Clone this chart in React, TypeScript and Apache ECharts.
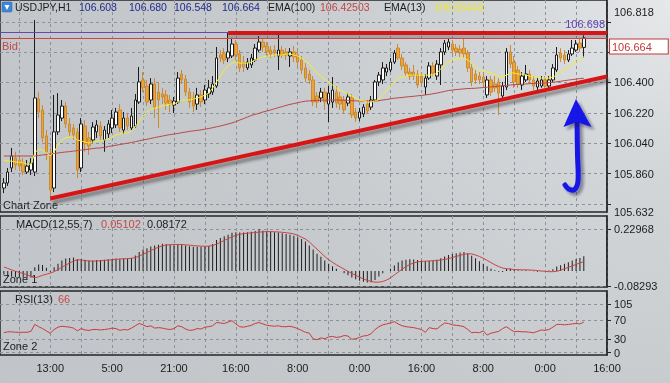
import React, { useEffect, useRef } from 'react';
import * as echarts from 'echarts';

const SLOT_COUNT = 158;
const FIRST_BAR = 1;
const timeLabels = ['13:00', '5:00', '21:00', '16:00', '8:00', '0:00', '16:00', '8:00', '0:00', '16:00'];
const priceLabels = [105.632, 105.86, 106.04, 106.22, 106.4, 106.818];
const priceGrid = [105.68, 105.86, 106.04, 106.22, 106.4, 106.58, 106.76];
const macdLabels = [-0.08293, 0.22968];
const rsiLabels = [0, 30, 70, 105];
const bidPrice = 106.664;
const levelPrice = 106.698;
const resistance = [[58.5, 106.695], [157, 106.695]];
const resistanceShadow = [[59, 106.673], [157, 106.673]];
const support = [[13, 105.712], [157, 106.435]];
const header = { symbol: 'USDJPY,H1', ohlc: ['106.608', '106.680', '106.548', '106.664'], ema100: '106.42503', ema13: '106.55443' };
const macdHeader = { name: 'MACD(12,55,7)', signal: '0.05102', main: '0.08172' };
const rsiHeader = { name: 'RSI(13)', value: '66' };

// [open, close, low, high]
const candles = [
[105.774,105.804,105.744,105.833],[105.804,105.869,105.786,105.893],[105.893,105.964,105.869,106.012],[105.952,105.910,105.881,105.989],[105.940,105.904,105.881,105.970],
[105.922,105.869,105.851,105.952],[105.869,105.904,105.857,105.940],[105.881,105.922,105.851,105.952],[105.869,106.308,105.845,106.770],[106.302,106.225,106.189,106.343],
[106.237,106.071,106.047,106.266],[106.083,105.989,105.940,106.118],[105.970,105.762,105.715,106.012],[105.774,106.107,105.750,106.326],[106.107,106.207,106.089,106.337],
[106.189,106.260,106.171,106.296],[106.260,106.154,106.130,106.284],[106.154,106.107,106.083,106.189],[106.130,106.089,106.059,106.154],[106.107,105.881,105.833,106.130],
[105.893,106.154,105.869,106.189],[106.142,106.036,105.989,106.177],[106.071,106.023,105.970,106.107],[106.059,106.136,106.041,106.165],[106.107,106.148,106.071,106.177],
[106.142,106.083,106.059,106.171],[106.059,106.118,105.989,106.142],[106.095,106.154,106.071,106.177],[106.130,106.189,106.100,106.237],[106.148,106.225,106.130,106.249],
[106.237,106.130,106.107,106.272],[106.118,106.189,106.095,106.225],[106.189,106.142,106.118,106.213],[106.130,106.201,106.118,106.249],[106.142,106.296,106.130,106.332],
[106.284,106.403,106.272,106.492],[106.415,106.368,106.343,106.462],[106.379,106.284,106.260,106.415],[106.296,106.391,106.272,106.426],[106.391,106.254,106.189,106.426],
[106.343,106.296,106.130,106.403],[106.332,106.314,106.272,106.368],[106.326,106.278,106.237,106.355],[106.296,106.272,106.225,106.326],[106.266,106.290,106.219,106.314],
[106.284,106.426,106.272,106.462],[106.450,106.415,106.391,106.474],[106.420,106.343,106.320,106.444],[106.343,106.284,106.249,106.368],[106.308,106.260,106.225,106.343],
[106.272,106.326,106.237,106.368],[106.326,106.284,106.254,106.355],[106.296,106.355,106.272,106.385],[106.332,106.368,106.308,106.415],[106.343,106.391,106.326,106.438],
[106.379,106.545,106.368,106.610],[106.563,106.545,106.521,106.592],[106.569,106.533,106.509,106.604],[106.545,106.581,106.521,106.693],[106.557,106.628,106.545,106.664],
[106.628,106.563,106.533,106.652],[106.569,106.486,106.462,106.592],[106.521,106.492,106.462,106.557],[106.486,106.521,106.474,106.545],[106.504,106.545,106.486,106.569],
[106.533,106.604,106.521,106.628],[106.592,106.640,106.581,106.675],[106.640,106.610,106.581,106.664],[106.616,106.581,106.557,106.640],[106.592,106.569,106.545,106.616],
[106.592,106.575,106.551,106.622],[106.557,106.592,106.474,106.693],[106.592,106.563,106.545,106.616],[106.581,106.563,106.533,106.604],[106.557,106.581,106.492,106.604],
[106.581,106.551,106.521,106.616],[106.563,106.521,106.498,106.592],[106.533,106.474,106.450,106.557],[106.486,106.426,106.403,106.515],[106.450,106.415,106.391,106.474],
[106.415,106.284,106.260,106.438],[106.320,106.284,106.249,106.343],[106.308,106.343,106.284,106.368],[106.343,106.284,106.237,106.368],[106.272,106.337,106.165,106.379],
[106.284,106.355,106.249,106.432],[106.343,106.278,106.249,106.379],[106.314,106.272,106.237,106.343],[106.296,106.237,106.213,106.320],[106.278,106.314,106.260,106.337],
[106.308,106.207,106.189,106.332],[106.225,106.189,106.165,106.249],[106.189,106.225,106.171,106.249],[106.213,106.254,106.195,106.272],[106.272,106.231,106.213,106.296],
[106.254,106.296,106.237,106.320],[106.296,106.403,106.284,106.415],[106.403,106.444,106.379,106.462],[106.415,106.486,106.391,106.521],[106.462,106.486,106.438,106.509],
[106.474,106.521,106.462,106.545],[106.521,106.575,106.509,106.592],[106.604,106.545,106.533,106.628],[106.545,106.498,106.474,106.569],[106.504,106.456,106.438,106.521],
[106.462,106.438,106.415,106.486],[106.462,106.438,106.415,106.504],[106.450,106.385,106.368,106.474],[106.438,106.403,106.379,106.462],[106.373,106.426,106.326,106.450],
[106.426,106.498,106.415,106.521],[106.498,106.456,106.438,106.521],[106.438,106.509,106.415,106.533],[106.504,106.581,106.385,106.604],[106.581,106.634,106.563,106.652],
[106.610,106.640,106.592,106.664],[106.628,106.592,106.569,106.652],[106.604,106.581,106.557,106.628],[106.598,106.575,106.551,106.622],[106.604,106.569,106.545,106.664],
[106.575,106.486,106.462,106.592],[106.486,106.403,106.379,106.509],[106.450,106.415,106.391,106.474],[106.438,106.415,106.391,106.462],[106.432,106.403,106.379,106.456],
[106.326,106.415,106.308,106.438],[106.415,106.343,106.320,106.438],[106.391,106.368,106.343,106.438],[106.403,106.337,106.207,106.426],[106.320,106.379,106.296,106.403],
[106.373,106.581,106.355,106.604],[106.581,106.509,106.486,106.622],[106.521,106.403,106.368,106.557],[106.474,106.391,106.368,106.498],[106.385,106.438,106.355,106.462],
[106.415,106.450,106.403,106.504],[106.450,106.415,106.391,106.474],[106.415,106.379,106.355,106.438],[106.373,106.409,106.355,106.426],[106.379,106.415,106.368,106.438],
[106.415,106.379,106.368,106.438],[106.379,106.415,106.368,106.438],[106.415,106.486,106.403,106.509],[106.474,106.563,106.462,106.610],[106.575,106.545,106.521,106.604],
[106.563,106.533,106.509,106.592],[106.533,106.569,106.521,106.592],[106.569,106.604,106.557,106.652],[106.592,106.628,106.581,106.652],[106.634,106.604,106.581,106.664],
[106.608,106.664,106.548,106.680]
];

const ema13 = [
105.940,105.934,105.934,105.928,105.928,105.922,105.916,105.916,105.982,106.006,
106.000,105.982,105.964,105.988,106.029,106.059,106.071,106.076,106.076,106.059,
106.053,106.047,106.041,106.047,106.053,106.053,106.059,106.065,106.076,106.088,
106.094,106.100,106.100,106.112,106.136,106.171,106.201,106.225,106.242,106.248,
106.254,106.260,106.266,106.272,106.272,106.284,106.296,106.296,106.296,106.302,
106.308,106.314,106.326,106.337,106.367,106.403,106.438,106.474,106.498,106.515,
106.521,106.515,106.515,106.515,106.521,106.533,106.545,106.551,106.557,106.557,
106.563,106.563,106.563,106.569,106.569,106.563,106.557,106.545,106.527,106.509,
106.480,106.456,106.438,106.420,106.403,106.385,106.367,106.355,106.343,106.331,
106.320,106.308,106.296,106.290,106.284,106.284,106.290,106.302,106.326,106.355,
106.379,106.403,106.426,106.432,106.438,106.444,106.444,106.444,106.444,106.444,
106.444,106.444,106.456,106.480,106.503,106.521,106.533,106.539,106.545,106.545,
106.533,106.515,106.492,106.474,106.468,106.462,106.456,106.444,106.438,106.432,
106.444,106.456,106.456,106.450,106.450,106.444,106.438,106.432,106.432,106.426,
106.426,106.426,106.432,106.444,106.462,106.474,106.492,106.509,106.521,106.533,
106.554
];

const ema100 = [
105.964,105.964,105.964,105.964,105.964,105.964,105.964,105.964,105.964,105.967,
105.970,105.973,105.976,105.979,105.982,105.985,105.988,105.990,105.993,105.996,
105.999,106.002,106.005,106.008,106.011,106.012,106.015,106.020,106.024,106.028,
106.032,106.036,106.040,106.044,106.049,106.054,106.059,106.063,106.068,106.073,
106.078,106.082,106.087,106.091,106.094,106.098,106.102,106.106,106.110,106.113,
106.116,106.119,106.123,106.127,106.132,106.137,106.142,106.148,106.154,106.160,
106.168,106.177,106.186,106.195,106.204,106.211,106.217,106.225,106.231,106.237,
106.244,106.251,106.257,106.264,106.270,106.275,106.280,106.285,106.289,106.291,
106.293,106.294,106.295,106.295,106.296,106.296,106.296,106.295,106.295,106.294,
106.292,106.291,106.290,106.289,106.289,106.289,106.290,106.292,106.296,106.299,
106.303,106.307,106.309,106.311,106.314,106.316,106.318,106.321,106.323,106.326,
106.329,106.333,106.337,106.342,106.347,106.352,106.355,106.358,106.360,106.362,
106.364,106.365,106.366,106.368,106.370,106.372,106.374,106.376,106.378,106.381,
106.383,106.385,106.387,106.388,106.390,106.391,106.393,106.394,106.395,106.396,
106.397,106.399,106.401,106.404,106.407,106.411,106.414,106.417,106.420,106.423,
106.425
];

const macdHist = [
-0.020,-0.030,-0.032,-0.035,-0.036,-0.037,-0.038,-0.036,0.020,0.036,
0.033,0.018,-0.005,0.020,0.040,0.058,0.068,0.072,0.074,0.066,
0.066,0.062,0.058,0.058,0.060,0.060,0.062,0.064,0.066,0.068,
0.066,0.068,0.068,0.072,0.085,0.105,0.118,0.125,0.135,0.140,
0.145,0.150,0.148,0.145,0.142,0.146,0.145,0.140,0.136,0.134,
0.134,0.134,0.136,0.138,0.148,0.170,0.182,0.192,0.200,0.210,
0.214,0.212,0.212,0.214,0.216,0.220,0.2297,0.222,0.220,0.218,
0.214,0.212,0.208,0.204,0.200,0.194,0.186,0.176,0.162,0.140,
0.118,0.095,0.078,0.058,0.040,0.026,0.012,0.000,-0.012,-0.024,
-0.036,-0.046,-0.054,-0.060,-0.063,-0.062,-0.050,-0.030,-0.012,0.000,
0.012,0.030,0.048,0.058,0.062,0.064,0.063,0.060,0.056,0.055,
0.056,0.058,0.062,0.070,0.080,0.088,0.094,0.098,0.102,0.104,
0.098,0.084,0.070,0.054,0.040,0.026,0.012,0.004,-0.004,-0.006,
0.012,0.014,0.006,0.004,0.002,0.004,0.002,-0.002,-0.004,-0.002,
0.000,0.002,0.010,0.024,0.032,0.040,0.048,0.058,0.066,0.072,
0.0817
];

const macdSignal = [
0.022,0.014,0.006,-0.002,-0.008,-0.014,-0.022,-0.030,-0.038,-0.032,
-0.024,-0.018,-0.012,-0.004,0.008,0.020,0.032,0.044,0.054,0.062,
0.060,0.057,0.055,0.054,0.055,0.056,0.058,0.060,0.062,0.064,
0.066,0.067,0.068,0.070,0.074,0.082,0.092,0.102,0.112,0.122,
0.131,0.138,0.143,0.145,0.146,0.146,0.146,0.144,0.142,0.140,
0.138,0.137,0.136,0.137,0.140,0.148,0.158,0.168,0.178,0.188,
0.196,0.202,0.206,0.208,0.210,0.212,0.214,0.216,0.217,0.217,
0.216,0.215,0.213,0.211,0.208,0.204,0.196,0.186,0.176,0.160,
0.140,0.120,0.100,0.080,0.062,0.048,0.034,0.022,0.010,-0.002,
-0.014,-0.024,-0.034,-0.044,-0.052,-0.058,-0.062,-0.062,-0.058,-0.050,
-0.038,-0.022,-0.006,0.010,0.024,0.036,0.044,0.050,0.053,0.054,
0.055,0.056,0.058,0.060,0.064,0.068,0.074,0.080,0.086,0.092,
0.095,0.094,0.088,0.080,0.070,0.058,0.046,0.034,0.024,0.016,
0.012,0.010,0.008,0.007,0.006,0.006,0.005,0.004,0.002,0.000,
-0.002,-0.004,-0.004,-0.002,0.004,0.012,0.020,0.028,0.036,0.044,
0.051
];

const rsi = [
43,45,45,44,44,44,44,46,61,56,
52,47,42,50,55,57,56,55,53,47,
52,49,48,50,50,49,50,51,53,52,
48,50,49,53,58,63,60,56,58,53,
54,53,51,50,52,58,56,51,48,49,
52,51,55,56,58,65,64,63,66,69,
62,56,55,57,59,63,65,62,59,58,
57,58,56,56,57,55,52,48,44,42,
30,28,32,30,34,35,33,34,37,36,
29,30,33,36,37,41,50,56,60,62,
64,67,62,58,56,55,54,52,50,44,
54,52,51,58,64,63,60,59,58,56,
50,43,44,43,47,38,42,44,46,52,
56,50,45,46,45,45,44,43,46,49,
48,50,55,61,61,60,61,62,63,62,
66
];

const FONT = 'Liberation Sans';
const TXT = '#1c1c1c';
const BORDER = '#262626';

function buildOption() {
  const cats = Array.from({ length: SLOT_COUNT }, (_, i) => String(i));
  const withX = (arr: number[]) => arr.map((v, k) => [k + FIRST_BAR, v]);
  const dash = { show: true, lineStyle: { color: '#8b9299', type: [3, 3] as any, width: 1 } };
  const gridBox = { show: true, borderColor: BORDER, borderWidth: 1.5, backgroundColor: 'transparent', containLabel: false };

  const xAxes = [0, 1, 2].map((g) => ({
    type: 'category',
    gridIndex: g,
    data: cats,
    boundaryGap: false,
    axisLine: { show: false },
    axisTick: { show: false },
    axisLabel: g === 2 ? {
      show: true,
      interval: (i: number) => i % 16 === 13,
      formatter: (v: string) => {
        const i = Number(v);
        return (i - 13) % 16 === 0 ? timeLabels[(i - 13) / 16] || '' : '';
      },
      color: TXT, fontSize: 11, fontFamily: FONT, margin: 7,
    } : { show: false },
    splitLine: { ...dash, interval: (i: number) => i % 8 === 5 },
  }));

  const yLabel = { color: TXT, fontSize: 11, fontFamily: FONT, margin: 7 };
  const yLine = { show: true, lineStyle: { color: BORDER, width: 1.5 } };

  const thickRed = {
    color: '#d61616', width: 4, type: 'solid',
    shadowColor: 'rgba(40,40,40,0.45)', shadowBlur: 3, shadowOffsetX: 2, shadowOffsetY: 4,
  };
  const flatRed = { color: '#d61616', width: 4, type: 'solid' };
  const flatShadow = { color: 'rgba(50,50,55,0.28)', width: 4, type: 'solid' };

  return {
    animation: false,
    backgroundColor: 'transparent',
    grid: [
      { left: 0, top: 0, width: 607, height: 212, ...gridBox },
      { left: 0, top: 216, width: 607, height: 71, ...gridBox },
      { left: 0, top: 291, width: 607, height: 64, ...gridBox },
    ],
    xAxis: xAxes,
    yAxis: [
      {
        type: 'value', gridIndex: 0, position: 'right', min: 105.632, max: 106.889,
        axisLine: yLine,
        axisTick: { show: true, length: 4, customValues: priceGrid, lineStyle: { color: BORDER } },
        axisLabel: { ...yLabel, customValues: priceLabels, formatter: (v: number) => v.toFixed(3) },
        splitLine: dash,
      },
      {
        type: 'value', gridIndex: 1, position: 'right', min: -0.0885, max: 0.303,
        axisLine: yLine,
        axisTick: { show: true, length: 4, customValues: macdLabels, lineStyle: { color: BORDER } },
        axisLabel: { ...yLabel, customValues: macdLabels, formatter: (v: number) => v.toFixed(5) },
        splitLine: dash,
      },
      {
        type: 'value', gridIndex: 2, position: 'right', min: -5, max: 133,
        axisLine: yLine,
        axisTick: { show: true, length: 4, customValues: rsiLabels, lineStyle: { color: BORDER } },
        axisLabel: { ...yLabel, customValues: rsiLabels, formatter: (v: number) => String(v) },
        splitLine: dash,
      },
    ],
    series: [
      {
        type: 'candlestick', xAxisIndex: 0, yAxisIndex: 0,
        data: candles.map((c, k) => [k + FIRST_BAR, ...c]),
        encode: { x: 0, y: [1, 2, 3, 4] },
        barWidth: 3,
        itemStyle: { color: '#ffffff', color0: '#eaa43a', borderColor: '#1c1c1c', borderColor0: '#cc8a30', borderWidth: 1 },
      },
      {
        type: 'line', xAxisIndex: 0, yAxisIndex: 0, data: withX(ema100), symbol: 'none',
        lineStyle: { color: '#b84848', width: 1 },
      },
      {
        type: 'line', xAxisIndex: 0, yAxisIndex: 0, data: withX(ema13), symbol: 'none',
        lineStyle: { color: '#f2ee2c', width: 1 },
        markLine: {
          silent: true, symbol: ['none', 'none'],
          label: { show: false },
          data: [
            [{ coord: resistanceShadow[0], lineStyle: flatShadow }, { coord: resistanceShadow[1] }],
            {
              yAxis: levelPrice, lineStyle: { color: '#6b45b8', width: 1, type: 'solid' },
              label: { show: true, position: 'insideEndTop', formatter: levelPrice.toFixed(3), color: '#5b3fae', fontSize: 11, fontFamily: FONT, distance: 2 },
            },
            {
              yAxis: bidPrice, lineStyle: { color: '#c44a4a', width: 1, type: 'solid' },
              label: { show: true, position: 'insideStartBottom', formatter: 'Bid', color: '#c44a4a', fontSize: 11, fontFamily: FONT, distance: 2 },
            },
            [{ coord: resistance[0], lineStyle: flatRed }, { coord: resistance[1] }],
            [{ coord: support[0], lineStyle: thickRed }, { coord: support[1] }],
            {
              yAxis: bidPrice, lineStyle: { color: 'rgba(0,0,0,0)', width: 0 },
              label: {
                show: true, position: 'end', formatter: bidPrice.toFixed(3), color: '#c03838', fontSize: 11, fontFamily: FONT,
                backgroundColor: '#ffffff', borderColor: '#c03838', borderWidth: 1, padding: [2, 16, 1, 2], offset: [0, 8], distance: 3,
              },
            },
          ],
        },
      },
      {
        type: 'bar', xAxisIndex: 1, yAxisIndex: 1, data: withX(macdHist), barWidth: 1,
        itemStyle: { color: '#1e1e1e' },
      },
      {
        type: 'line', xAxisIndex: 1, yAxisIndex: 1, data: withX(macdSignal), symbol: 'none',
        lineStyle: { color: '#c94444', width: 1 },
      },
      {
        type: 'line', xAxisIndex: 2, yAxisIndex: 2, data: withX(rsi), symbol: 'none',
        lineStyle: { color: '#c83c3c', width: 1 },
      },
    ],
    graphic: [
      { type: 'rect', shape: { x: 2, y: 2, width: 10, height: 10, r: 1 }, style: { fill: '#3f86d8', stroke: '#2a5fa8', lineWidth: 0.5 } },
      { type: 'polygon', shape: { points: [[4.5, 5], [9.5, 5], [7, 10]] }, style: { fill: '#ffffff' } },
      ...[
        { x: 15, text: header.symbol, fill: TXT },
        { x: 79, text: header.ohlc[0], fill: '#1f2a8c' },
        { x: 129, text: header.ohlc[1], fill: '#1f2a8c' },
        { x: 174, text: header.ohlc[2], fill: '#1f2a8c' },
        { x: 222, text: header.ohlc[3], fill: '#1f2a8c' },
        { x: 268, text: 'EMA(100)', fill: TXT },
        { x: 320, text: header.ema100, fill: '#c24444' },
        { x: 384, text: 'EMA(13)', fill: TXT },
        { x: 434, text: header.ema13, fill: '#ece62a' },
      ].map((t) => ({ type: 'text', x: t.x, y: 7, style: { text: t.text, fill: t.fill, fontSize: 10.5, fontFamily: FONT, verticalAlign: 'middle' } })),
      ...[
        { x: 3, y: 205, text: 'Chart Zone', fill: TXT },
        { x: 16, y: 224, text: macdHeader.name, fill: TXT },
        { x: 101, y: 224, text: macdHeader.signal, fill: '#c84848' },
        { x: 147, y: 224, text: macdHeader.main, fill: TXT },
        { x: 3, y: 279, text: 'Zone 1', fill: TXT },
        { x: 15, y: 299, text: rsiHeader.name, fill: TXT },
        { x: 58, y: 299, text: rsiHeader.value, fill: '#c84848' },
        { x: 3, y: 346, text: 'Zone 2', fill: TXT },
      ].map((t) => ({ type: 'text', x: t.x, y: t.y, style: { text: t.text, fill: t.fill, fontSize: 11, fontFamily: FONT, verticalAlign: 'middle' } })),
      {
        type: 'polyline', z: 100,
        shape: { points: [[577, 122], [577.5, 155], [578, 181], [574.5, 189.5], [568.5, 189], [565, 185]], smooth: 0.3 },
        style: { stroke: '#1515e6', lineWidth: 5, lineCap: 'round', fill: null, shadowColor: 'rgba(30,30,60,0.45)', shadowBlur: 3, shadowOffsetX: 3, shadowOffsetY: 3 },
      },
      {
        type: 'polygon', z: 100,
        shape: { points: [[576, 99], [591.5, 127], [577, 122], [563.5, 127]] },
        style: { fill: '#1515e6', shadowColor: 'rgba(30,30,60,0.45)', shadowBlur: 3, shadowOffsetX: 3, shadowOffsetY: 3 },
      },
    ],
  };
}

export default function App() {
  const ref = useRef<HTMLDivElement>(null);
  useEffect(() => {
    if (!ref.current) return;
    const chart = echarts.init(ref.current, undefined, { renderer: 'svg' });
    chart.setOption(buildOption() as any);
    return () => chart.dispose();
  }, []);
  return (
    <div
      ref={ref}
      style={{
        position: 'fixed', left: 0, top: 0, width: 670, height: 383,
        background: 'radial-gradient(circle at 100% 0%, #e6e8ea 0%, #d3d6d9 22%, #c6cacd 55%, #c1c5c9 100%)',
      }}
    />
  );
}
